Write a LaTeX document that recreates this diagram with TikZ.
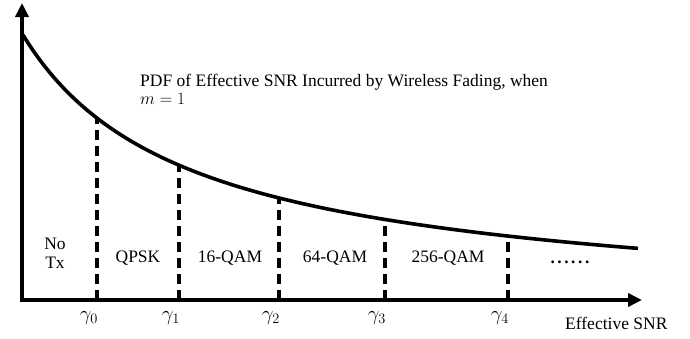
\documentclass[tikz,border=0pt]{standalone}
\usepackage{fontspec}
\setmainfont{Liberation Serif}
\usetikzlibrary{arrows.meta}

\tikzset{
  axis/.style={line width=3.6pt, -{Triangle[length=14pt,width=13pt]}},
  pdfcurve/.style={line width=3.6pt, line join=round},
  threshold/.style={line width=3.6pt, dash pattern=on 10pt off 6pt},
  lbl/.style={font=\fontsize{17.5}{20}\selectfont, inner sep=0pt},
  gam/.style={font=\fontsize{20}{22}\selectfont, inner sep=0pt},
  region/.style={lbl, align=center},
}
% height of the density above the axis at horizontal position #1
\pgfmathdeclarefunction{snrpdf}{1}{%
  \pgfmathparse{298 - 263/(1 + 0.00623*(#1 - 23)) + 0.012*(#1 - 23)*(#1 - 23)/(#1 + 300)}%
}

\begin{document}
\begin{tikzpicture}[x=1pt,y=-1pt]
\useasboundingbox (0,0) rectangle (690,338);

% axes
\coordinate (O) at (22,300);
\coordinate (ytop) at (22,3);
\coordinate (xend) at (642,300);
\draw[axis] (22,302) -- (ytop);
\draw[axis] (20,300) -- (xend);

% density curve
\draw[pdfcurve] plot[domain=23:638, samples=120] (\x, {snrpdf(\x)});

% thresholds: dashed from the axis up to the curve
\foreach \i/\x in {0/97, 1/179, 2/279, 3/385, 4/508} {
  \coordinate (b\i) at (\x,300);
  \coordinate (t\i) at (\x,{snrpdf(\x)});
  \draw[threshold] (b\i) -- (t\i);
  \node[gam] (g\i) at (\x-8,318) {$\gamma_{\i}$};
}

% modulation regions
\node[region] (notx) at (55,253) {No\\[-1pt]Tx};
\node[lbl] (qpsk) at (138,258) {QPSK};
\node[lbl] (qam16) at (230,258) {16-QAM};
\node[lbl] (qam64) at (335,258) {64-QAM};
\node[lbl] (qam256) at (448,258) {256-QAM};
\node[lbl] (more) at (570,262) {\textbf{.\kern2.5pt.\kern2.5pt.\kern2.5pt.\kern2.5pt.\kern2.5pt.}};

% axis label and caption
\node[lbl, anchor=west] (xlabel) at (565,323) {Effective SNR};
\node[lbl, anchor=north west, align=left] (caption) at (140,74)
  {PDF of Effective SNR Incurred by Wireless Fading, when\\[-2pt]$m=1$};
\end{tikzpicture}
\end{document}
